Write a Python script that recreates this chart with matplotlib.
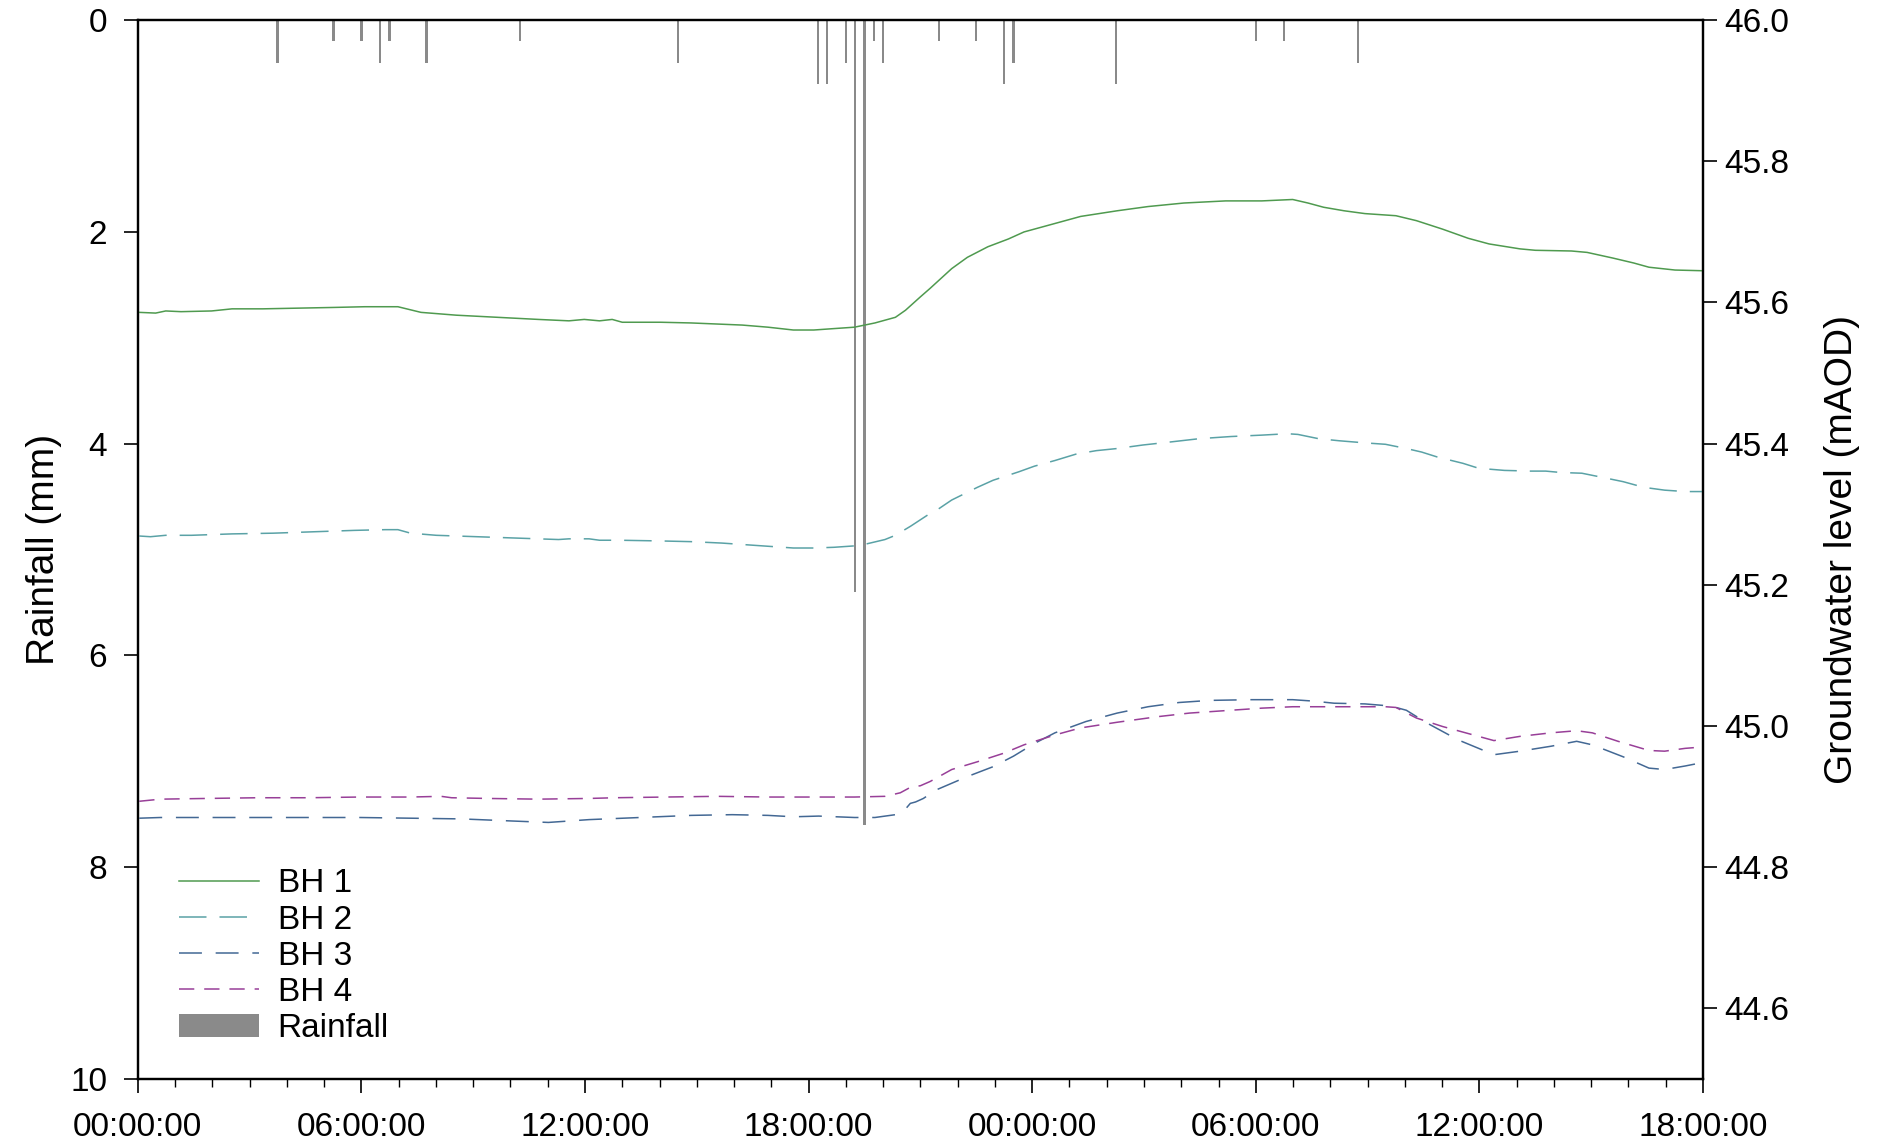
import matplotlib
matplotlib.use("Agg")
import matplotlib.pyplot as plt
from matplotlib.patches import Patch

plt.rcParams['font.family'] = ['Liberation Sans', 'DejaVu Sans']

# ---- data (time in hours from first 00:00:00) ----
rain_t = [3.75, 5.25, 6.0, 6.5, 6.75, 7.75, 10.25, 14.5, 18.25, 18.5, 19.0, 19.25,
          19.5, 19.75, 20.0, 21.5, 22.5, 23.25, 23.5, 26.25, 30.0, 30.75, 32.75]
rain_mm = [0.4, 0.2, 0.2, 0.4, 0.2, 0.4, 0.2, 0.4, 0.6, 0.6, 0.4, 5.4,
           7.6, 0.2, 0.4, 0.2, 0.2, 0.6, 0.4, 0.6, 0.2, 0.2, 0.4]

bh1_t = [0.04, 0.48, 0.75, 1.16, 1.98, 2.53, 3.35, 4.31, 5.27, 6.09, 6.98, 7.60, 8.55, 9.65,
         10.75, 11.57, 11.98, 12.39, 12.73, 13.0, 14.03, 14.85, 16.22, 16.91, 17.59, 18.14,
         18.68, 19.23, 19.78, 20.33, 20.60, 21.0, 21.26, 21.84, 22.26, 22.81, 23.36, 23.78,
         24.61, 25.30, 26.28, 27.11, 28.07, 29.19, 30.16, 30.99, 31.40, 31.82, 32.37, 32.93,
         33.76, 34.31, 35.01, 35.70, 36.26, 37.09, 37.50, 38.47, 38.89, 39.58, 40.14, 40.55,
         41.25, 42.0]
bh1_v = [45.586, 45.585, 45.588, 45.587, 45.588, 45.591, 45.591, 45.592, 45.593, 45.594,
         45.594, 45.586, 45.582, 45.579, 45.576, 45.574, 45.576, 45.574, 45.576, 45.572,
         45.572, 45.571, 45.568, 45.565, 45.561, 45.561, 45.563, 45.565, 45.571, 45.579,
         45.589, 45.608, 45.620, 45.648, 45.664, 45.679, 45.690, 45.700, 45.712, 45.722,
         45.730, 45.736, 45.741, 45.744, 45.744, 45.746, 45.741, 45.735, 45.730, 45.726,
         45.723, 45.716, 45.704, 45.691, 45.683, 45.676, 45.674, 45.673, 45.671, 45.663,
         45.656, 45.650, 45.646, 45.645]

bh2_t = [0.04, 0.34, 0.75, 1.44, 2.53, 3.63, 4.72, 5.82, 6.64, 6.98, 7.32, 8.01, 9.10, 10.20,
         11.29, 11.57, 12.11, 12.39, 12.94, 14.03, 14.85, 15.67, 16.49, 17.04, 17.59, 18.14,
         18.68, 19.23, 19.57, 20.05, 20.33, 20.74, 21.26, 21.42, 21.84, 22.53, 22.95, 23.64,
         24.06, 24.61, 25.17, 25.72, 26.28, 26.97, 27.66, 28.49, 29.33, 30.16, 30.85, 31.13,
         31.68, 32.24, 32.93, 33.48, 34.04, 34.45, 34.87, 35.56, 35.98, 36.67, 37.37, 37.78,
         38.19, 38.75, 39.31, 39.86, 40.41, 40.97, 41.52, 42.0]
bh2_v = [45.269, 45.268, 45.270, 45.270, 45.272, 45.273, 45.275, 45.277, 45.278, 45.278,
         45.273, 45.270, 45.268, 45.266, 45.264, 45.265, 45.265, 45.263, 45.263, 45.262,
         45.261, 45.259, 45.256, 45.254, 45.252, 45.252, 45.253, 45.255, 45.258, 45.264,
         45.270, 45.283, 45.301, 45.305, 45.320, 45.338, 45.348, 45.360, 45.368, 45.376,
         45.385, 45.390, 45.393, 45.398, 45.402, 45.407, 45.410, 45.412, 45.414, 45.413,
         45.407, 45.404, 45.401, 45.399, 45.393, 45.388, 45.381, 45.372, 45.365, 45.362,
         45.361, 45.361, 45.359, 45.358, 45.352, 45.346, 45.338, 45.334, 45.332, 45.332]

bh3_t = [0.04, 0.61, 1.85, 3.22, 4.59, 5.95, 7.32, 8.69, 10.06, 11.02, 12.11, 13.48, 14.85,
         15.95, 16.91, 17.59, 18.27, 19.23, 19.78, 20.33, 20.60, 20.73, 20.87, 21.08, 21.42,
         22.26, 22.95, 23.50, 24.06, 24.61, 25.44, 26.28, 27.11, 27.94, 28.77, 29.88, 30.99,
         31.54, 32.10, 32.93, 33.62, 34.04, 34.59, 35.43, 36.39, 37.09, 37.92, 38.61, 39.03,
         39.86, 40.55, 40.97, 41.52, 42.0]
bh3_v = [44.869, 44.870, 44.870, 44.870, 44.870, 44.870, 44.869, 44.868, 44.865, 44.863,
         44.867, 44.870, 44.873, 44.874, 44.873, 44.871, 44.872, 44.870, 44.870, 44.874,
         44.882, 44.890, 44.892, 44.897, 44.909, 44.928, 44.942, 44.957, 44.975, 44.990,
         45.006, 45.018, 45.027, 45.033, 45.036, 45.037, 45.037, 45.035, 45.032, 45.031,
         45.028, 45.022, 45.004, 44.980, 44.959, 44.964, 44.971, 44.978, 44.973, 44.956,
         44.940, 44.938, 44.943, 44.948]

bh4_t = [0.04, 0.61, 1.85, 3.22, 4.59, 5.95, 7.32, 8.14, 8.42, 9.38, 10.75, 12.11, 12.80,
         14.17, 15.54, 16.91, 18.27, 19.23, 20.05, 20.46, 20.74, 21.0, 21.26, 21.84, 22.53,
         23.23, 23.78, 24.61, 25.30, 26.28, 27.38, 28.22, 29.05, 30.16, 30.99, 31.54, 32.37,
         33.48, 33.76, 34.31, 35.01, 35.70, 36.39, 37.09, 37.92, 38.61, 39.03, 39.72, 40.55,
         40.97, 41.52, 42.0]
bh4_v = [44.893, 44.896, 44.897, 44.898, 44.898, 44.899, 44.899, 44.900, 44.898, 44.897,
         44.896, 44.897, 44.898, 44.899, 44.900, 44.899, 44.899, 44.899, 44.900, 44.905,
         44.913, 44.915, 44.921, 44.938, 44.949, 44.961, 44.973, 44.987, 44.997, 45.005,
         45.013, 45.018, 45.021, 45.025, 45.027, 45.027, 45.027, 45.027, 45.026, 45.011,
         44.999, 44.989, 44.979, 44.985, 44.990, 44.993, 44.990, 44.978, 44.965, 44.964,
         44.968, 44.970]

x_ticks = [0, 6, 12, 18, 24, 30, 36, 42]
x_labels = ["00:00:00", "06:00:00", "12:00:00", "18:00:00",
            "00:00:00", "06:00:00", "12:00:00", "18:00:00"]
rain_ticks = [0, 2, 4, 6, 8, 10]
gw_ticks = [44.6, 44.8, 45.0, 45.2, 45.4, 45.6, 45.8, 46.0]

series_names = ["BH 1", "BH 2", "BH 3", "BH 4"]
colors = ["#4f9a4f", "#5aa2a6", "#436894", "#983f98"]
dashes = [None, (18, 8.5), (15, 9), (10, 6.5)]

# ---- figure ----
fig = plt.figure(figsize=(18.77, 11.47), dpi=100)
ax1 = fig.add_axes([0.0734, 0.0597, 0.9073 - 0.0734, 0.9823 - 0.0597])
ax2 = ax1.twinx()

ax1.bar(rain_t, rain_mm, width=0.065, color="#8a8a8a", align="center", zorder=2)
ax1.set_xlim(0, 42)
ax1.set_ylim(10, 0)
ax1.set_yticks(rain_ticks)
ax1.set_xticks(x_ticks)
ax1.set_xticklabels(x_labels)
ax1.set_xticks(list(range(0, 43)), minor=True)
ax1.set_ylabel("Rainfall (mm)", fontsize=28)
ax1.yaxis.set_label_coords(-0.0486, 0.5)

lines = []
for t, v, c, d, n in zip([bh1_t, bh2_t, bh3_t, bh4_t], [bh1_v, bh2_v, bh3_v, bh4_v],
                         colors, dashes, series_names):
    if d is None:
        ln, = ax2.plot(t, v, color=c, lw=1.1, label=n)
    else:
        ln, = ax2.plot(t, v, color=c, lw=1.1, dashes=d, label=n)
    lines.append(ln)

ax2.set_ylim(44.5, 46.0)
ax2.set_yticks(gw_ticks)
ax2.set_yticklabels([f"{v:.1f}" for v in gw_ticks])
ax2.set_ylabel("Groundwater level (mAOD)", fontsize=28)
ax2.yaxis.set_label_coords(1.077, 0.5)

for ax in (ax1, ax2):
    for s in ax.spines.values():
        s.set_linewidth(1.6)
        s.set_color("black")
ax1.tick_params(axis="both", which="major", labelsize=24, length=10, width=1.2, direction="out")
ax1.tick_params(axis="x", which="minor", length=6, width=1.0, direction="out")
ax1.tick_params(axis="x", which="major", pad=14)
ax1.tick_params(axis="y", which="major", pad=12)
ax2.tick_params(axis="y", which="major", labelsize=24, length=10, width=1.2, direction="out", pad=5)

handles = lines + [Patch(facecolor="#8a8a8a", edgecolor="none", label="Rainfall")]
ax2.legend(handles=handles, loc="lower left", bbox_to_anchor=(0.018, 0.02), frameon=False,
           fontsize=24, handlelength=2.4, handletextpad=0.55, labelspacing=0.155,
           borderaxespad=0)

fig.savefig("out.png", dpi=100)
